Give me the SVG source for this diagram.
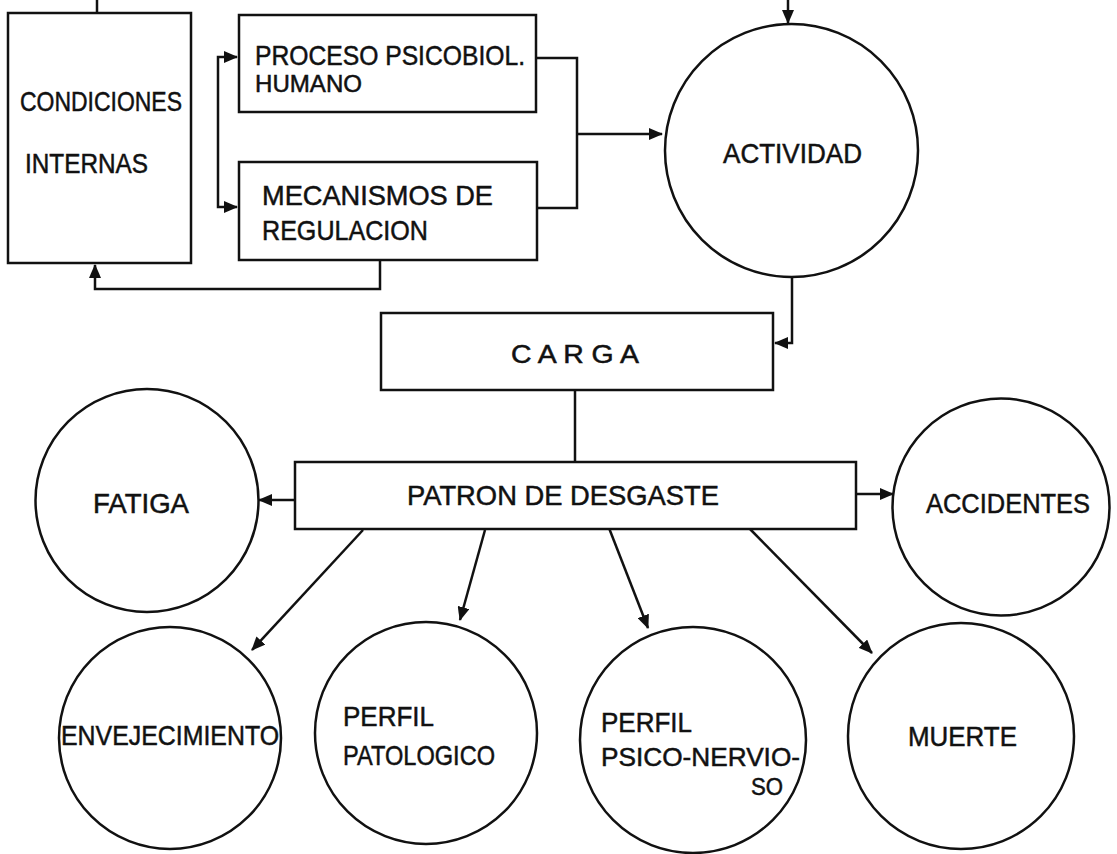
<svg xmlns="http://www.w3.org/2000/svg" width="1117" height="854" viewBox="0 0 1117 854">
<defs>
<style>
.box{fill:#fff;stroke:#111;stroke-width:2.5}
.circ{fill:#fff;stroke:#111;stroke-width:2.5}
.lbl{font-family:"Liberation Sans",Arial,sans-serif;font-size:28px;fill:#111;stroke:#111;stroke-width:0.5}
.con{fill:none;stroke:#111;stroke-width:2.5}
.arr{marker-end:url(#ah)}
</style>
<marker id="ah" markerUnits="userSpaceOnUse" markerWidth="14" markerHeight="12" viewBox="0 0 14 12" refX="13" refY="6" orient="auto-start-reverse">
<path d="M0,0 L14,6 L0,12 z" fill="#111"/>
</marker>
</defs>
<rect width="1117" height="854" fill="#fff"/>

<g id="connectors">
<path class="con" d="M97,0 V13"/>
<path class="con arr" d="M788,0 V23"/>
<path class="con" d="M237,57 H218 V207 H237" marker-start="url(#ah)" marker-end="url(#ah)"/>
<path class="con" d="M536,58 H577 V208 H537"/>
<path class="con arr" d="M577,134 H662"/>
<path class="con arr" d="M380,260 V289 H95 V265"/>
<path class="con arr" d="M792,277 V343 H775"/>
<path class="con" d="M575,390 V462"/>
<path class="con arr" d="M295,500 H259"/>
<path class="con arr" d="M856,494 H893"/>
<path class="con arr" d="M363,530 L252,650"/>
<path class="con arr" d="M485,530 L460,620"/>
<path class="con arr" d="M609,528 L648,628"/>
<path class="con arr" d="M749,528 L872,653"/>
</g>

<g id="condiciones">
<rect class="box" x="8" y="13" width="183" height="250"/>
<text class="lbl" x="20" y="111" textLength="162" lengthAdjust="spacingAndGlyphs">CONDICIONES</text>
<text class="lbl" x="25" y="173" textLength="123" lengthAdjust="spacingAndGlyphs">INTERNAS</text>
</g>

<g id="proceso">
<rect class="box" x="239" y="15" width="297" height="97"/>
<text class="lbl" x="255" y="65" textLength="270" lengthAdjust="spacingAndGlyphs">PROCESO PSICOBIOL.</text>
<text class="lbl" x="255" y="92" textLength="107" lengthAdjust="spacingAndGlyphs" style="font-size:24px">HUMANO</text>
</g>

<g id="mecanismos">
<rect class="box" x="239" y="162" width="298" height="98"/>
<text class="lbl" x="262" y="205" textLength="231" lengthAdjust="spacingAndGlyphs">MECANISMOS DE</text>
<text class="lbl" x="262" y="240" textLength="166" lengthAdjust="spacingAndGlyphs">REGULACION</text>
</g>

<g id="actividad">
<circle class="circ" cx="791.5" cy="150.5" r="126.5"/>
<text class="lbl" x="723" y="163" textLength="139" lengthAdjust="spacingAndGlyphs">ACTIVIDAD</text>
</g>

<g id="carga">
<rect class="box" x="381" y="313" width="392" height="77"/>
<text class="lbl" x="511" y="363" textLength="128" lengthAdjust="spacingAndGlyphs" style="font-size:25px">C A R G A</text>
</g>

<g id="patron">
<rect class="box" x="295" y="462" width="561" height="67"/>
<text class="lbl" x="407" y="505" textLength="312" lengthAdjust="spacingAndGlyphs">PATRON DE DESGASTE</text>
</g>

<g id="fatiga">
<circle class="circ" cx="147" cy="500.5" r="111.5"/>
<text class="lbl" x="93" y="513" textLength="96" lengthAdjust="spacingAndGlyphs">FATIGA</text>
</g>

<g id="accidentes">
<circle class="circ" cx="1001" cy="507" r="108.5"/>
<text class="lbl" x="926" y="513" textLength="164" lengthAdjust="spacingAndGlyphs">ACCIDENTES</text>
</g>

<g id="envejecimiento">
<circle class="circ" cx="170" cy="738" r="111"/>
<text class="lbl" x="61" y="745" textLength="218" lengthAdjust="spacingAndGlyphs">ENVEJECIMIENTO</text>
</g>

<g id="perfil-patologico">
<circle class="circ" cx="426" cy="733" r="111"/>
<text class="lbl" x="343" y="726" textLength="91" lengthAdjust="spacingAndGlyphs">PERFIL</text>
<text class="lbl" x="343" y="765" textLength="152" lengthAdjust="spacingAndGlyphs">PATOLOGICO</text>
</g>

<g id="perfil-psico">
<circle class="circ" cx="693" cy="740" r="113"/>
<text class="lbl" x="601" y="732" textLength="91" lengthAdjust="spacingAndGlyphs">PERFIL</text>
<text class="lbl" x="601" y="766" textLength="199" lengthAdjust="spacingAndGlyphs" style="font-size:26px">PSICO-NERVIO-</text>
<text class="lbl" x="751" y="795" textLength="32" lengthAdjust="spacingAndGlyphs" style="font-size:24px">SO</text>
</g>

<g id="muerte">
<circle class="circ" cx="961" cy="736" r="113"/>
<text class="lbl" x="908" y="746" textLength="109" lengthAdjust="spacingAndGlyphs">MUERTE</text>
</g>
</svg>
